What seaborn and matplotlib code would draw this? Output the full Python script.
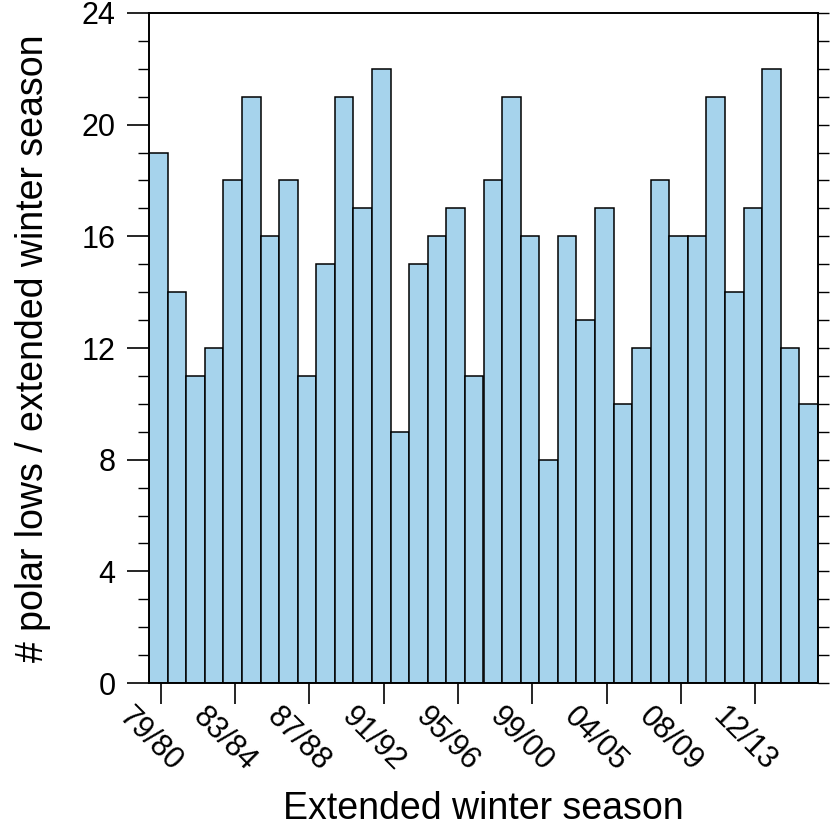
import numpy as np
import pandas as pd
import matplotlib
matplotlib.use("Agg")
import matplotlib.pyplot as plt
from matplotlib.ticker import MultipleLocator
import seaborn as sns

# Extended winter seasons 1979/80 .. 2014/15
seasons = ["79/80", "80/81", "81/82", "82/83", "83/84", "84/85", "85/86", "86/87",
           "87/88", "88/89", "89/90", "90/91", "91/92", "92/93", "93/94", "94/95",
           "95/96", "96/97", "97/98", "98/99", "99/00", "00/01", "01/02", "02/03",
           "03/04", "04/05", "05/06", "06/07", "07/08", "08/09", "09/10", "10/11",
           "11/12", "12/13", "13/14", "14/15"]
counts = [19, 14, 11, 12, 18, 21, 16, 18, 11, 15, 21, 17, 22, 9, 15, 16, 17, 11,
          18, 21, 16, 8, 16, 13, 17, 10, 12, 18, 16, 16, 21, 14, 17, 22, 12, 10]
x_tick_labels = ["79/80", "83/84", "87/88", "91/92", "95/96", "99/00",
                 "04/05", "08/09", "12/13"]
y_major = [0, 4, 8, 12, 16, 20, 24]

df = pd.DataFrame({"season": seasons, "count": counts})

sns.set_style("ticks")
plt.rcParams["font.family"] = ["Liberation Sans", "DejaVu Sans"]
plt.rcParams["text.color"] = "black"
plt.rcParams["axes.labelcolor"] = "black"
plt.rcParams["xtick.color"] = "black"
plt.rcParams["ytick.color"] = "black"

fig = plt.figure(figsize=(8.31, 8.30), dpi=100)
ax = fig.add_axes([149 / 831, 1 - 683 / 830, (818 - 149) / 831, (683 - 13) / 830])

sns.barplot(data=df, x="season", y="count", color="#A6D3EC", saturation=1,
            edgecolor="black", linewidth=1.1, width=1.0, ax=ax)

ax.set_xlim(-0.5, len(seasons) - 0.5)
ax.set_ylim(0, 24)

# x ticks: one every fourth bar, outward, labels slanted downwards
tick_pos = [4 * i + 0.12 for i in range(len(x_tick_labels))]
ax.set_xticks(tick_pos)
ax.set_xticklabels(x_tick_labels, rotation=-45, ha="center", va="top",
                   rotation_mode="anchor", fontsize=22)
ax.tick_params(axis="x", which="major", direction="out", length=15, width=1.2,
               pad=18, bottom=True, top=False)

# y ticks: major every 4, minor every 1
ax.set_yticks(y_major)
ax.yaxis.set_minor_locator(MultipleLocator(1))
ax.tick_params(axis="y", which="major", direction="out", length=16, width=1.2,
               labelsize=22, pad=8, left=True, right=False)
ax.tick_params(axis="y", which="minor", direction="out", length=8, width=1.0,
               left=True, right=False)

# right-hand ticks via a twin axis (shorter, outward)
axr = ax.twinx()
axr.set_ylim(0, 24)
axr.set_yticks(y_major)
axr.yaxis.set_minor_locator(MultipleLocator(1))
axr.tick_params(axis="y", which="both", direction="out", length=8, width=1.0,
                labelright=False, right=True, left=False)
axr.grid(False)

for a in (ax, axr):
    for sp in a.spines.values():
        sp.set_visible(True)
        sp.set_linewidth(1.2)
        sp.set_color("black")

ax.set_xlabel("Extended winter season", fontsize=27, labelpad=10)
ax.set_ylabel("# polar lows / extended winter season", fontsize=27, labelpad=22)

fig.savefig("out.png", dpi=100)
